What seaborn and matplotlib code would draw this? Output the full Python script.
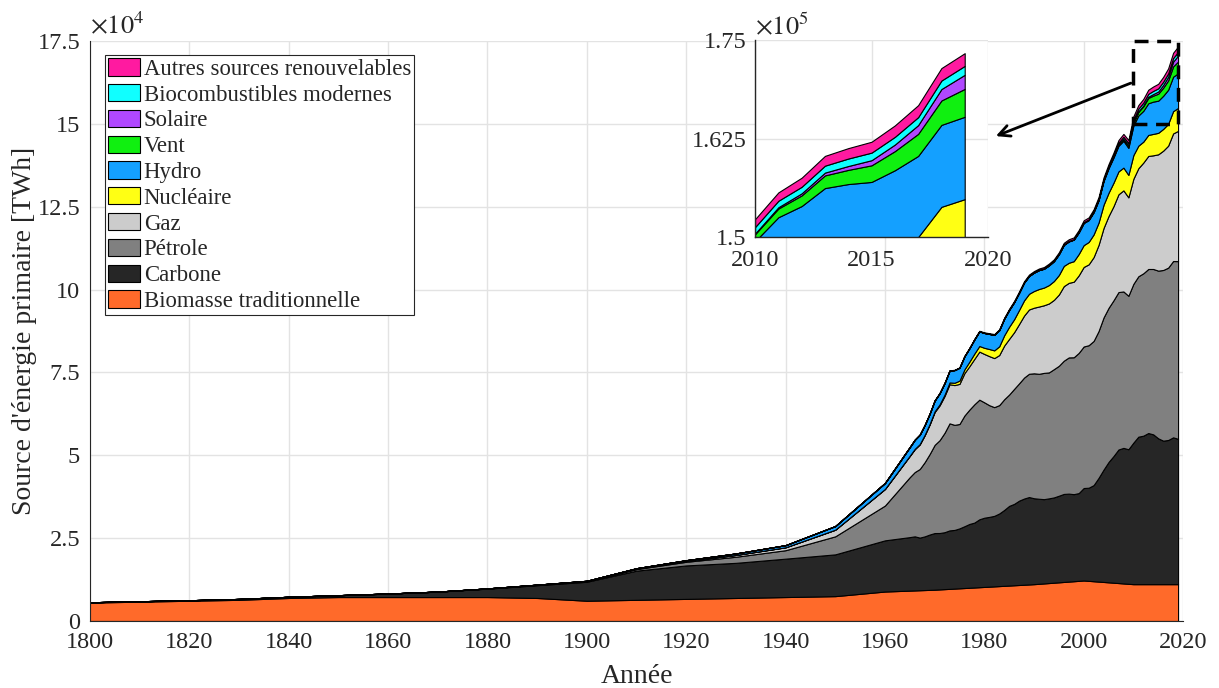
import numpy as np
import matplotlib
matplotlib.use("Agg")
import matplotlib.pyplot as plt
import seaborn as sns
from matplotlib.patches import Rectangle
from matplotlib.ticker import FuncFormatter

# Years: decades until 1960, annual from 1965
years = [1800, 1810, 1820, 1830, 1840, 1850, 1860, 1870, 1880, 1890, 1900,
         1910, 1920, 1930, 1940, 1950, 1960,
         1965, 1966, 1967, 1968, 1969, 1970, 1971, 1972, 1973, 1974,
         1975, 1976, 1977, 1978, 1979, 1980, 1981, 1982, 1983, 1984,
         1985, 1986, 1987, 1988, 1989, 1990, 1991, 1992, 1993, 1994,
         1995, 1996, 1997, 1998, 1999, 2000, 2001, 2002, 2003, 2004,
         2005, 2006, 2007, 2008, 2009, 2010, 2011, 2012, 2013, 2014,
         2015, 2016, 2017, 2018, 2019]

# TWh, one value per year above
biomasse = [5556, 5833, 6111, 6389, 6944, 7222, 7222, 7222, 7222, 6944, 6111,
            6389, 6667, 6944, 7222, 7500, 8889,
            9167, 9222, 9278, 9333, 9389, 9444, 9528, 9611, 9694, 9778,
            9861, 9944, 10028, 10111, 10194, 10278, 10361, 10444, 10528, 10611,
            10694, 10778, 10861, 10944, 11028, 11111, 11222, 11333, 11444, 11556,
            11667, 11778, 11889, 12000, 12111, 12222, 12111, 12000, 11889, 11778,
            11667, 11556, 11444, 11333, 11222, 11111, 11111, 11111, 11111, 11111,
            11111, 11111, 11111, 11111, 11111]
carbone = [97, 128, 153, 264, 356, 569, 1061, 1642, 2542, 3856, 5728,
           8800, 10100, 10600, 11586, 12603, 15442,
           16140, 16320, 15880, 16200, 16700, 17090, 17020, 17180, 17640, 17700,
           18080, 18650, 19250, 19580, 20490, 20890, 21050, 21280, 21910, 22890,
           24040, 24560, 25450, 26000, 26370, 25920, 25660, 25430, 25560, 25730,
           26130, 26560, 26540, 26270, 26480, 27900, 28100, 29000, 31300, 33900,
           36300, 38200, 40300, 40900, 40600, 42700, 44500, 44800, 45600, 45200,
           44000, 43300, 43500, 44300, 43850]
petrole = [0, 0, 0, 0, 0, 0, 0, 6, 33, 89, 181,
           478, 1097, 1842, 2553, 5444, 10500,
           18100, 19400, 20700, 22400, 24300, 26600, 28000, 30000, 32300, 31700,
           31500, 33400, 34500, 35700, 36100, 34800, 33700, 32800, 32700, 33400,
           33600, 34700, 35400, 36500, 37200, 37700, 37700, 38100, 38000, 38700,
           39200, 40200, 41100, 41300, 42300, 42700, 43000, 43500, 44300, 45900,
           46500, 47000, 47500, 47200, 46300, 47900, 48400, 49000, 49500, 49900,
           50600, 51500, 52000, 53200, 53620]
gaz = [0, 0, 0, 0, 0, 0, 0, 0, 33, 67, 64,
       142, 233, 542, 875, 2000, 5000,
       6400, 6900, 7400, 8100, 8900, 9900, 10500, 11100, 11800, 12000,
       12100, 12800, 13100, 13700, 14500, 14600, 14800, 14800, 15100, 16200,
       16800, 17100, 17900, 18700, 19400, 19800, 20300, 20400, 20800, 20900,
       21500, 22500, 22500, 22800, 23400, 24000, 24400, 25300, 26000, 27000,
       27700, 28400, 29500, 30500, 29700, 31700, 32600, 33400, 34100, 34300,
       35100, 36000, 36800, 38500, 39300]
nucleaire = [0, 0, 0, 0, 0, 0, 0, 0, 0, 0, 0,
             0, 0, 0, 0, 0, 10,
             70, 90, 110, 140, 170, 220, 300, 400, 540, 700,
             980, 1130, 1370, 1600, 1690, 1860, 2150, 2330, 2640, 3100,
             3650, 3910, 4250, 4590, 4730, 5040, 5290, 5340, 5550, 5680,
             5880, 6100, 6060, 6200, 6440, 6580, 6750, 6830, 6730, 7010,
             7020, 7080, 6910, 6860, 6780, 7150, 6800, 6320, 6350, 6460,
             6480, 6560, 6580, 6720, 6923]
hydro = [0, 0, 0, 0, 0, 0, 0, 0, 0, 10, 50,
         120, 250, 450, 650, 1100, 1800,
         2600, 2750, 2830, 2950, 3100, 3250, 3380, 3500, 3560, 3830,
         3900, 3950, 4050, 4280, 4420, 4480, 4560, 4680, 4860, 5000,
         5080, 5150, 5200, 5370, 5370, 5550, 5700, 5680, 5940, 6000,
         6270, 6350, 6440, 6480, 6500, 6700, 6580, 6680, 6700, 7130,
         7380, 7600, 7720, 8100, 8150, 8900, 9100, 9300, 9550, 9750,
         9700, 10000, 10300, 10400, 10455]
vent = [0, 0, 0, 0, 0, 0, 0, 0, 0, 0, 0,
        0, 0, 0, 0, 0, 0,
        0, 0, 0, 0, 0, 0, 0, 0, 0, 0,
        0, 0, 0, 0, 0, 0, 0, 0, 1, 1,
        2, 3, 4, 6, 8, 10, 12, 14, 17, 20,
        24, 30, 38, 47, 60, 80, 100, 140, 170, 220,
        270, 340, 440, 570, 720, 900, 1100, 1350, 1610, 1800,
        2110, 2430, 2800, 3100, 3540]
solaire = [0, 0, 0, 0, 0, 0, 0, 0, 0, 0, 0,
           0, 0, 0, 0, 0, 0,
           0, 0, 0, 0, 0, 0, 0, 0, 0, 0,
           0, 0, 0, 0, 0, 0, 0, 0, 0, 0,
           0, 0, 0, 0, 0, 1, 1, 1, 1, 1,
           1, 1, 2, 2, 2, 3, 3, 4, 5, 7,
           10, 14, 20, 35, 55, 85, 170, 265, 355, 490,
           650, 830, 1110, 1450, 1790]
biocarburants = [0, 0, 0, 0, 0, 0, 0, 0, 0, 0, 0,
                 0, 0, 0, 0, 0, 0,
                 0, 0, 0, 0, 0, 0, 0, 0, 0, 0,
                 5, 10, 15, 20, 25, 30, 40, 50, 60, 65,
                 70, 75, 80, 85, 90, 100, 100, 105, 110, 115,
                 120, 130, 135, 140, 150, 160, 170, 200, 240, 260,
                 300, 380, 480, 620, 680, 820, 820, 830, 880, 950,
                 960, 980, 1010, 1080, 1130]
autres = [0, 0, 0, 0, 0, 0, 0, 0, 0, 0, 0,
          0, 0, 0, 0, 0, 30,
          50, 52, 55, 58, 62, 70, 75, 80, 85, 90,
          100, 110, 120, 130, 140, 150, 170, 190, 210, 240,
          270, 290, 310, 320, 330, 350, 370, 390, 410, 420,
          440, 460, 480, 500, 520, 550, 560, 580, 610, 640,
          700, 740, 790, 850, 920, 1000, 1060, 1150, 1240, 1320,
          1380, 1450, 1520, 1580, 1614]

labels = ["Biomasse traditionnelle", "Carbone", "Pétrole", "Gaz", "Nucléaire",
          "Hydro", "Vent", "Solaire", "Biocombustibles modernes",
          "Autres sources renouvelables"]
colors = ["#FF6A2A", "#262626", "#808080", "#CCCCCC", "#FFFF14",
          "#14A0FF", "#10F010", "#B048FF", "#10FFFF", "#FF1AA0"]

series = [biomasse, carbone, petrole, gaz, nucleaire, hydro, vent, solaire,
          biocarburants, autres]

sns.set_theme(style="whitegrid")
plt.rcParams["font.family"] = ["Liberation Serif", "DejaVu Serif"]
plt.rcParams["mathtext.fontset"] = "stix"

fig = plt.figure(figsize=(12.19, 6.88), dpi=100)
ax = fig.add_axes([0.0738, 0.0974, 0.8967, 0.843])

ax.stackplot(years, *series, labels=labels, colors=colors,
             edgecolor="black", linewidth=0.8)

ax.set_xlim(1800, 2020)
ax.set_ylim(0, 175000)
ax.set_xticks(range(1800, 2021, 20))
ax.set_yticks(np.arange(0, 175001, 25000))
ax.yaxis.set_major_formatter(FuncFormatter(lambda v, p: f"{v / 1e4:g}"))
ax.tick_params(direction="in", length=6, width=0.8, colors="#262626",
               labelsize=17.5, pad=7)
ax.tick_params(axis="x", pad=8)
ax.grid(True, color="#e3e3e3", linewidth=1)
ax.set_facecolor("white")
for side in ["top", "right"]:
    ax.spines[side].set_visible(False)
for side in ["left", "bottom"]:
    ax.spines[side].set_color("#262626")
    ax.spines[side].set_linewidth(0.8)
ax.text(0.0, 1.005, r"$\times 10^4$", transform=ax.transAxes,
        fontsize=19, color="#262626", ha="left", va="bottom")
ax.set_xlabel("Année", fontsize=20, color="#262626")
ax.set_ylabel("Source d'énergie primaire [TWh]", fontsize=20, color="#262626")
ax.xaxis.set_label_coords(0.5, -0.074)
ax.yaxis.set_label_coords(-0.048, 0.5)

h, l = ax.get_legend_handles_labels()
leg = ax.legend(h[::-1], l[::-1], loc="upper left",
                bbox_to_anchor=(0.0137, 0.976), borderaxespad=0,
                fontsize=16.4, handlelength=1.4, handleheight=0.79,
                handletextpad=0.15, labelspacing=0.185, borderpad=0.15,
                fancybox=False, framealpha=1)
leg.get_frame().set_edgecolor("#262626")
leg.get_frame().set_linewidth(0.8)

# zoom box and arrow
ax.add_patch(Rectangle((2010, 150000), 9, 25000, fill=False, edgecolor="black",
                       linestyle=(0, (4, 2.5)), linewidth=2.5, zorder=5,
                       clip_on=False))
ax.annotate("", xy=(1981.8, 146000), xytext=(2010, 162600),
            arrowprops=dict(arrowstyle="->", lw=2, color="black",
                            mutation_scale=20))

# inset
start = years.index(2010)
ins = fig.add_axes([0.6194, 0.6555, 0.1911, 0.2863])
ins.stackplot(years[start:], *[s[start:] for s in series], colors=colors,
              edgecolor="black", linewidth=0.8)
ins.set_xlim(2010, 2020)
ins.set_ylim(150000, 175000)
ins.set_xticks([2010, 2015, 2020])
ins.set_yticks([150000, 162500, 175000])
ins.yaxis.set_major_formatter(FuncFormatter(lambda v, p: f"{v / 1e5:g}"))
ins.tick_params(direction="in", length=5, width=0.8, colors="#262626",
                labelsize=17.5, pad=6)
ins.tick_params(axis="x", pad=9)
ins.grid(True, color="#e3e3e3", linewidth=1)
ins.set_facecolor("white")
for side in ["top", "right"]:
    ins.spines[side].set_visible(False)
for side in ["left", "bottom"]:
    ins.spines[side].set_color("#262626")
    ins.spines[side].set_linewidth(1.0)
ins.text(0.0, 1.005, r"$\times 10^5$", transform=ins.transAxes,
         fontsize=19, color="#262626", ha="left", va="bottom")

fig.savefig("out.png", dpi=100, facecolor="white")
